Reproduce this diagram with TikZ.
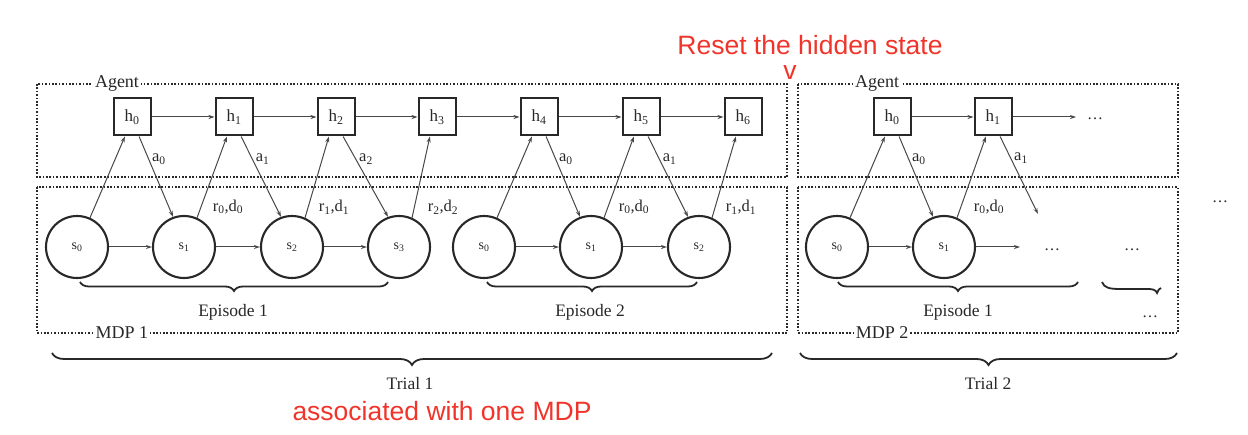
\documentclass[tikz,border=0pt]{standalone}
\usepackage{fontspec}
\setmainfont{Liberation Serif}
\newfontfamily\redfont{Liberation Sans}
\usetikzlibrary{arrows.meta,decorations.pathreplacing}
\definecolor{ink}{RGB}{40,40,40}
\definecolor{redtxt}{RGB}{240,52,42}
\tikzset{
  hbox/.style={draw=ink, line width=2pt, minimum size=37pt, inner sep=0pt, font=\fontsize{17}{19}\selectfont, text=ink},
  sstate/.style={circle, draw=ink, line width=2.1pt, minimum size=62pt, inner sep=0pt, font=\fontsize{14}{16}\selectfont, text=ink},
  arr/.style={draw=ink!85, line width=1pt, -{Stealth[length=6pt,width=4pt]}},
  region/.style={draw=ink, line width=1.9pt, dash pattern=on 1.7pt off 1.7pt},
  rlabel/.style={fill=white, inner sep=2pt, font=\fontsize{18}{20}\selectfont, text=ink},
  elabel/.style={font=\fontsize{16.5}{18}\selectfont, text=ink, inner sep=1pt},
  btext/.style={font=\fontsize{17.5}{20}\selectfont, text=ink},
  brc/.style={draw=ink, line width=1.8pt, decorate, decoration={brace, mirror, amplitude=9pt}},
  redlab/.style={text=redtxt, font=\redfont\fontsize{26.5}{30}\selectfont},
  dots/.style={font=\fontsize{16}{18}\selectfont, text=ink}
}
\begin{document}
\begin{tikzpicture}[x=1pt,y=-1pt]
\useasboundingbox (0,0) rectangle (1248,435);
% regions
\draw[region] (37,84) rectangle (787,177);
\draw[region] (37,187) rectangle (787,333);
\draw[region] (798,84) rectangle (1178,177);
\draw[region] (798,187) rectangle (1178,333);
\node[rlabel] (ag1) at (117,84) {Agent};
\node[rlabel] (mdp1) at (122,333) {MDP 1};
\node[rlabel] (ag2) at (877,84) {Agent};
\node[rlabel] (mdp2) at (882,333) {MDP 2};
% hidden states trial 1
\node[hbox] (h0) at (132,117) {h\textsubscript{0}};
\node[hbox] (h1) at (234,117) {h\textsubscript{1}};
\node[hbox] (h2) at (336,117) {h\textsubscript{2}};
\node[hbox] (h3) at (437,117) {h\textsubscript{3}};
\node[hbox] (h4) at (539,117) {h\textsubscript{4}};
\node[hbox] (h5) at (641,117) {h\textsubscript{5}};
\node[hbox] (h6) at (743,117) {h\textsubscript{6}};
% states trial 1
\node[sstate] (s0) at (77,247) {s\textsubscript{0}};
\node[sstate] (s1) at (184,247) {s\textsubscript{1}};
\node[sstate] (s2) at (292,247) {s\textsubscript{2}};
\node[sstate] (s3) at (399,247) {s\textsubscript{3}};
\node[sstate] (t0) at (484,247) {s\textsubscript{0}};
\node[sstate] (t1) at (591,247) {s\textsubscript{1}};
\node[sstate] (t2) at (699,247) {s\textsubscript{2}};
% trial 2
\node[hbox] (g0) at (892,117) {h\textsubscript{0}};
\node[hbox] (g1) at (993,117) {h\textsubscript{1}};
\node[sstate] (u0) at (837,247) {s\textsubscript{0}};
\node[sstate] (u1) at (944,247) {s\textsubscript{1}};
\coordinate (gend) at (1076,117);
\coordinate (aend) at (1038,214);
\coordinate (send) at (1020,247);
\node[dots] (gd) at (1095,119) {\dots};
\node[dots] (sd1) at (1052,250) {\dots};
\node[dots] (sd2) at (1132,250) {\dots};
\node[dots] (sd3) at (1150,317) {\dots};
\node[dots] (far) at (1220,202) {\dots};
% horizontal arrows
\foreach \a/\b in {h0/h1,h1/h2,h2/h3,h3/h4,h4/h5,h5/h6,g0/g1,s0/s1,s1/s2,s2/s3,t0/t1,t1/t2,u0/u1}
  \draw[arr] (\a) -- (\b);
\draw[arr] (g1) -- (gend);
\draw[arr] (u1) -- (send);
% s -> h
\foreach \s/\h in {s0/h0,s1/h1,s2/h2,s3/h3,t0/h4,t1/h5,t2/h6,u0/g0,u1/g1}
  \draw[arr] (\s.66) -- (\h.250);
% h -> s with action labels
\draw[arr] (h0.290) -- node[elabel, pos=0.28, anchor=west, xshift=2pt] (la0) {a\textsubscript{0}} (s1.110);
\draw[arr] (h1.290) -- node[elabel, pos=0.28, anchor=west, xshift=2pt] (la1) {a\textsubscript{1}} (s2.110);
\draw[arr] (h2.290) -- node[elabel, pos=0.28, anchor=west, xshift=2pt] (la2) {a\textsubscript{2}} (s3.110);
\draw[arr] (h4.290) -- node[elabel, pos=0.28, anchor=west, xshift=2pt] (lb0) {a\textsubscript{0}} (t1.110);
\draw[arr] (h5.290) -- node[elabel, pos=0.28, anchor=west, xshift=2pt] (lb1) {a\textsubscript{1}} (t2.110);
\draw[arr] (g0.290) -- node[elabel, pos=0.28, anchor=west, xshift=2pt] (lc0) {a\textsubscript{0}} (u1.110);
\draw[arr] (g1.290) -- node[elabel, pos=0.28, anchor=west, xshift=2pt] (lc1) {a\textsubscript{1}} (aend);
% reward labels
\node[elabel] (r1) at (228,207) {r\textsubscript{0},d\textsubscript{0}};
\node[elabel] (r2) at (334,207) {r\textsubscript{1},d\textsubscript{1}};
\node[elabel] (r3) at (443,207) {r\textsubscript{2},d\textsubscript{2}};
\node[elabel] (r4) at (634,207) {r\textsubscript{0},d\textsubscript{0}};
\node[elabel] (r5) at (741,207) {r\textsubscript{1},d\textsubscript{1}};
\node[elabel] (r6) at (989,207) {r\textsubscript{0},d\textsubscript{0}};
% braces
\draw[brc] (80,282) -- (388,282);
\node[btext] (ep1) at (233,312) {Episode 1};
\draw[brc] (487,282) -- (697,282);
\node[btext] (ep2) at (590,312) {Episode 2};
\draw[brc] (838,282) -- (1078,282);
\node[btext] (ep3) at (958,312) {Episode 1};
\draw[draw=ink, line width=1.8pt] (1102,282) .. controls (1104,288) and (1110,289) .. (1120,289) -- (1148,289) .. controls (1153,289) and (1156,290) .. (1157,293) .. controls (1158,290) and (1159,289) .. (1161,288);
\draw[brc, decoration={amplitude=12pt}] (52,353) -- (772,353);
\node[btext] (tr1) at (410,384) {Trial 1};
\draw[brc, decoration={amplitude=12pt}] (800,353) -- (1177,353);
\node[btext] (tr2) at (988,384) {Trial 2};
% red annotations
\node[redlab] (reset) at (810,45) {Reset the hidden state};
\node[redlab] (vmark) at (790,73) {v};
\node[redlab] (assoc) at (442,411) {associated with one MDP};
\end{tikzpicture}
\end{document}
